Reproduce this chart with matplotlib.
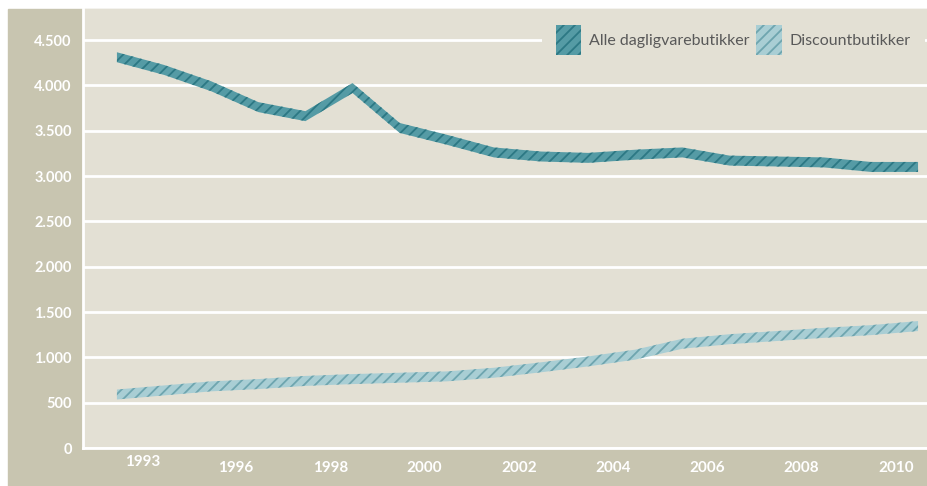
import matplotlib
matplotlib.use("Agg")
import matplotlib.pyplot as plt
from matplotlib.patches import Rectangle, Patch
from matplotlib.transforms import blended_transform_factory

years = list(range(1993, 2011))
alle = [4310, 4170, 3990, 3760, 3660, 3970, 3530, 3400, 3260, 3215,
        3200, 3235, 3260, 3170, 3160, 3150, 3100, 3100]
discount = [590, 635, 680, 705, 740, 760, 775, 790, 830, 890,
            955, 1030, 1150, 1200, 1235, 1270, 1300, 1345]
x_labels = [1993, 1996, 1998, 2000, 2002, 2004, 2006, 2008, 2010]
y_ticks = [0, 500, 1000, 1500, 2000, 2500, 3000, 3500, 4000, 4500]
series_names = ["Alle dagligvarebutikker", "Discountbutikker"]

BG = "#e3e0d4"
PANEL = "#c8c5b0"
DARK_FILL, DARK_HATCH = "#559ba5", "#2c7884"
LIGHT_FILL, LIGHT_HATCH = "#a9ced4", "#6ea5af"
HALF = 55  # half thickness of the ribbons

plt.rcParams["font.family"] = ["Lato", "DejaVu Sans"]
plt.rcParams["hatch.linewidth"] = 1.3

W, H = 927, 486
fig = plt.figure(figsize=(W / 100, H / 100), dpi=100, facecolor="white")
fig.patches.append(Rectangle((8 / W, 0), 1 - 8 / W, 1 - 9 / H,
                             transform=fig.transFigure, color=PANEL, zorder=-1))

ax = fig.add_axes([83 / W, (H - 448) / H, (W - 83) / W, (448 - 9) / H])
ax.set_facecolor(BG)

ax.fill_between(years, [v - HALF for v in alle], [v + HALF for v in alle],
                facecolor=DARK_FILL, edgecolor=DARK_HATCH, hatch="///",
                linewidth=0, zorder=3)
ax.fill_between(years, [v - HALF for v in discount], [v + HALF for v in discount],
                facecolor=LIGHT_FILL, edgecolor=LIGHT_HATCH, hatch="///",
                linewidth=0, zorder=3)

ax.set_xlim(1992.28, 2010.19)
ax.set_ylim(0, 4842)

ax.set_yticks(y_ticks)
ax.set_yticklabels([f"{v:,}".replace(",", ".") for v in y_ticks],
                   color="white", fontweight="bold", fontsize=10.5)
ax.tick_params(axis="y", length=0, pad=8)
ax.set_xticks([])
ax.grid(axis="y", color="white", linewidth=2, zorder=1)
ax.set_axisbelow(True)

for s in ["top", "right"]:
    ax.spines[s].set_visible(False)
for s in ["left", "bottom"]:
    ax.spines[s].set_color("white")
    ax.spines[s].set_linewidth(2)

# x labels sit between the years in the original
trans = blended_transform_factory(ax.transData, ax.transAxes)
for yr in x_labels:
    if yr == x_labels[0]:
        xpos, ypos = yr + 0.54, -0.033
    else:
        xpos, ypos = yr - 0.47, -0.045
    ax.text(xpos, ypos, str(yr), transform=trans, ha="center", va="center",
            color="white", fontweight="bold", fontsize=11)

handles = [Patch(facecolor=DARK_FILL, edgecolor=DARK_HATCH, hatch="///", linewidth=0),
           Patch(facecolor=LIGHT_FILL, edgecolor=LIGHT_HATCH, hatch="///", linewidth=0)]
leg = ax.legend(handles, series_names, loc="upper right", bbox_to_anchor=(1, 1),
                ncol=2, frameon=True, facecolor=BG, edgecolor="none", framealpha=1,
                fontsize=11.5, handlelength=1.6, handleheight=2.5,
                handletextpad=0.5, columnspacing=0.4, borderpad=0.9,
                borderaxespad=0.1, fancybox=False)
for t in leg.get_texts():
    t.set_color("#595959")
leg.set_zorder(5)

fig.savefig("out.png", dpi=100)
